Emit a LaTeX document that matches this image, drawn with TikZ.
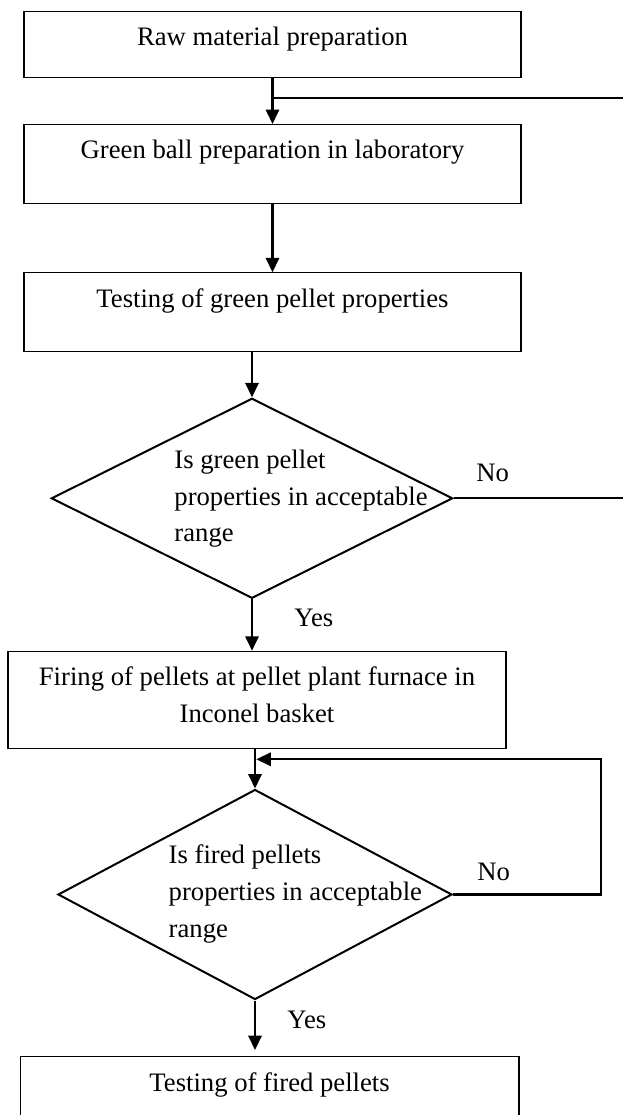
\documentclass[tikz,border=0pt]{standalone}
\usepackage{fontspec}
\setmainfont{Liberation Serif}
\usepackage{tikz}
\usetikzlibrary{shapes.geometric,arrows.meta,positioning,calc}

\begin{document}
\begin{tikzpicture}[x=0.45pt,y=-0.45pt,
    procbox/.style={draw=black, line width=0.5pt, anchor=north,
        inner xsep=2pt, inner ysep=0pt, text height=15.4pt,
        align=center, font=\fontsize{12}{16.5}\selectfont},
    decision/.style={draw=black, line width=0.9pt, diamond,
        inner sep=0pt},
    decitext/.style={anchor=base west, inner sep=0pt, align=left,
        font=\fontsize{12}{16.5}\selectfont},
    answer/.style={anchor=base west, inner sep=0pt,
        font=\fontsize{12}{14}\selectfont},
    flow/.style={-{Triangle[length=6.5pt,width=6pt]}, line width=1pt},
    flowline/.style={line width=1pt}]

  \useasboundingbox (0,0) rectangle (623,1115);

  %% Process boxes
  \node[procbox, minimum width=223.6pt, text depth=14.3pt]
    (raw) at (272.5,10.7) {Raw material preparation};
  \node[procbox, minimum width=223.6pt, text depth=20.2pt]
    (green) at (272.5,124) {Green ball preparation in laboratory};
  \node[procbox, minimum width=223.6pt, text depth=20pt]
    (gtest) at (272.5,272.3) {Testing of green pellet properties};

  %% Decision 1
  \node[decision, minimum width=180.6pt, minimum height=90pt]
    (gcheck) at (252,498.3) {};
  \node[decitext] (gchecktxt) at (174,541.7)
    {Is green pellet\\properties in acceptable\\range};

  %% Firing
  \node[procbox, minimum width=224.1pt, text height=31.9pt,
        text depth=11.75pt]
    (firing) at (257,650.7)
    {Firing of pellets at pellet plant furnace in\\Inconel basket};

  %% Decision 2
  \node[decision, minimum width=177.3pt, minimum height=94.5pt]
    (fcheck) at (255,894.5) {};
  \node[decitext] (fchecktxt) at (168.3,937)
    {Is fired pellets\\properties in acceptable\\range};

  %% Final box (bottom edge runs off the page)
  \node[procbox, draw=none, minimum width=224pt, text depth=11.25pt]
    (ftest) at (269.6,1056.7) {Testing of fired pellets};
  \draw[line width=0.5pt] (ftest.south west) |- (ftest.north)
    -| (ftest.south east);

  %% Labels
  \node[answer] (gno)  at (476,481.7) {No};
  \node[answer] (gyes) at (294,626)   {Yes};
  \node[answer] (fno)  at (477,880)   {No};
  \node[answer] (fyes) at (287,1028)  {Yes};

  %% Return points
  \coordinate (gret) at (623,97.7);
  \coordinate (fret) at (601,759.3);

  %% Arrows
  \draw[flow] (raw.south) -- (green.north);
  \draw[flow] (green.south) -- (gtest.north);
  \draw[flow] (gcheck.north |- gtest.south) -- (gcheck.north);
  \draw[flow] (gcheck.south) -- (gcheck.south |- firing.north);
  \draw[flow] (fcheck.north |- firing.south) -- (fcheck.north);
  \draw[flow, shorten >=3pt] (fcheck.south) -- (fcheck.south |- ftest.north);

  %% No branches
  \draw[flowline] (gcheck.east) -- (gcheck.east -| gret);
  \draw[flowline] (gret) -- (gret -| raw.south);
  \draw[flow, shorten >=0.6pt] (fcheck.east) -| (fret)
    -- (fret -| fcheck.north);

\end{tikzpicture}
\end{document}
